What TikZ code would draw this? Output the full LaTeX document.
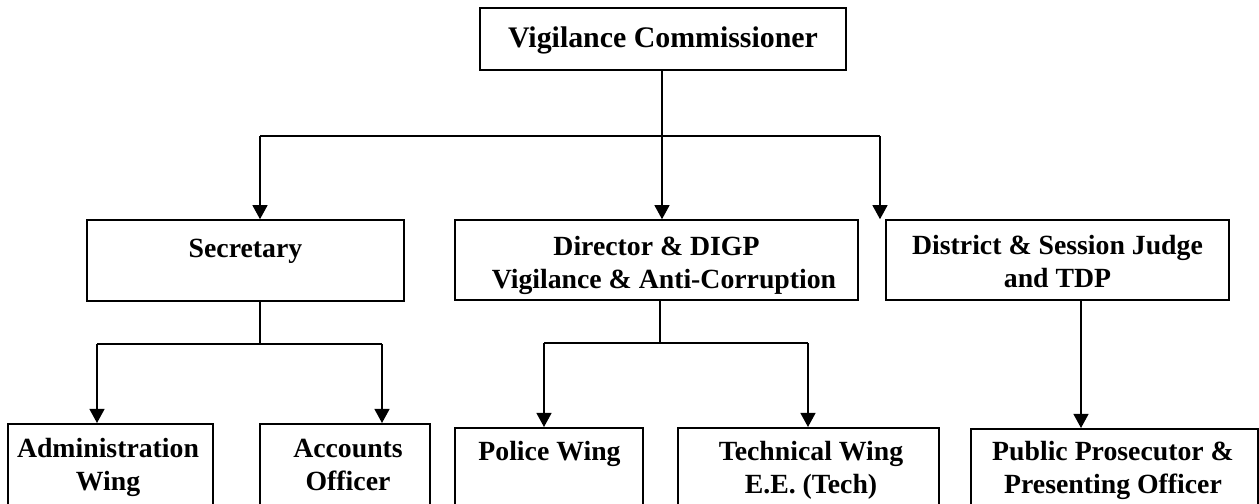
\documentclass[tikz,border=0pt]{standalone}
\usepackage{fontspec}
\setmainfont{Liberation Serif}
\usepackage{tikz}
\usetikzlibrary{arrows.meta}
\usetikzlibrary{calc}

\begin{document}
\begin{tikzpicture}[x=0.02cm, y=-0.02cm]

		\tikzstyle{box}  = [rectangle, draw, line width=0.9pt, inner sep=0pt, fill=white]
		\tikzstyle{lbl}  = [align=center, inner sep=0pt, font=\fontsize{15.8}{18.6}\selectfont\bfseries]
		\tikzstyle{link} = [line width=0.9pt]
		\tikzstyle{arr}  = [line width=0.9pt, -{Triangle[length=8pt,width=8.5pt]}]

		\clip (0,0) rectangle (1259,504);

		\node [box, minimum width=7.32cm, minimum height=1.24cm](vc) at (663,39) {};
		\node [box, minimum width=6.34cm, minimum height=1.62cm](sec) at (245.5,260.5) {};
		\node [box, minimum width=8.06cm, minimum height=1.6cm](dir) at (656.5,260) {};
		\node [box, minimum width=6.86cm, minimum height=1.6cm](dsj) at (1057.5,260) {};
		\node [box, anchor=north, minimum width=4.1cm, minimum height=2cm](adm) at (110.5,423) {};
		\node [box, anchor=north, minimum width=3.4cm, minimum height=2cm](acc) at (345,423) {};
		\node [box, anchor=north, minimum width=3.76cm, minimum height=2cm](pol) at (549,427) {};
		\node [box, anchor=north, minimum width=5.22cm, minimum height=2cm](tec) at (808.5,427) {};
		\node [box, anchor=north, minimum width=5.74cm, minimum height=2cm](pp) at (1114.5,428) {};

		\node [lbl, anchor=base, font=\fontsize{17}{20}\selectfont\bfseries](vc-t) at (vc.center |- 0,47) {Vigilance Commissioner};
		\node [lbl, anchor=base](sec-t) at (sec.center |- 0,257) {Secretary};
		\node [lbl, anchor=base](dir-t) at (dir.center |- 0,288) {Director \& DIGP\\\hspace*{0.3cm}Vigilance \& Anti-Corruption};
		\node [lbl, anchor=base](dsj-t) at (dsj.center |- 0,287) {District \& Session Judge\\and TDP};
		\node [lbl, anchor=base](adm-t) at (108,490) {Administration\\Wing};
		\node [lbl, anchor=base](acc-t) at (348,490) {Accounts\\Officer};
		\node [lbl, anchor=base](pol-t) at (549.5,460) {Police Wing};
		\node [lbl, anchor=base](tec-t) at (811,493) {Technical Wing\\E.E. (Tech)};
		\node [lbl, anchor=base](pp-t) at (1113,493) {Public Prosecutor \&\\Presenting Officer};

		\coordinate (vcbus) at (662,136);
		\coordinate (busl) at (260,136);
		\coordinate (busr) at (880,136);
		\draw [link] (vc.south -| vcbus) -- (vcbus);
		\draw [link] (busl) -- (busr);
		\draw [arr] (busl) -- (busl |- sec.north);
		\draw [arr] (vcbus) -- (vcbus |- dir.north);
		\draw [arr] (busr) -- (busr |- dsj.north);

		\coordinate (secbus) at (260,344);
		\coordinate (secl) at (97,344);
		\coordinate (secr) at (382,344);
		\draw [link] (sec.south -| secbus) -- (secbus);
		\draw [link] (secl) -- (secr);
		\draw [arr] (secl) -- (secl |- adm.north);
		\draw [arr] (secr) -- (secr |- acc.north);

		\coordinate (dirbus) at (660,343);
		\coordinate (dirl) at (544,343);
		\coordinate (dirr) at (808,343);
		\draw [link] (dir.south -| dirbus) -- (dirbus);
		\draw [link] (dirl) -- (dirr);
		\draw [arr] (dirl) -- (dirl |- pol.north);
		\draw [arr] (dirr) -- (dirr |- tec.north);

		\coordinate (dsjdrop) at (1081,300);
		\draw [arr] (dsj.south -| dsjdrop) -- (pp.north -| dsjdrop);

	\end{tikzpicture}
\end{document}
